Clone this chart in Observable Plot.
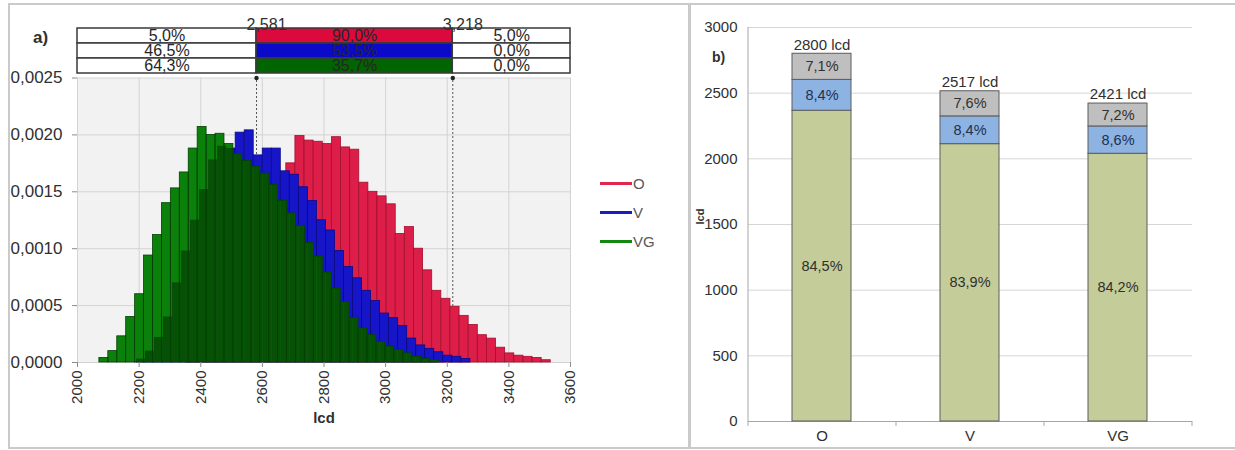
<!DOCTYPE html>
<html>
<head>
<meta charset="utf-8">
<script src="https://cdn.jsdelivr.net/npm/d3@7"></script>
<script src="https://cdn.jsdelivr.net/npm/@observablehq/plot@0.6"></script>
<style>
  body { margin: 0; background: #fff; font-family: "Liberation Sans", Arial, Helvetica, sans-serif; }
  #wrap { position: relative; width: 1235px; height: 450px; overflow: hidden; }
  .panel { position: absolute; border: 2px solid #cacaca; box-sizing: border-box; }
  .layer { position: absolute; top: 0; }
  .layer svg { display: block; overflow: visible; }
  #legend { position: absolute; left: 600px; top: 169px; font-size: 15px; color: #595959; }
  #legend .row { height: 29px; display: flex; align-items: center; }
  #legend .swatch { display: inline-block; width: 32px; height: 3px; margin-right: 1px; }
</style>
</head>
<body>
<div id="wrap">
  <div class="panel" style="left:8px; top:3px; width:682px; height:446px;"></div>
  <div class="panel" style="left:689px; top:3px; width:560px; height:446px;"></div>
  <div id="hist" class="layer" style="left:0"></div>
  <div id="table" class="layer" style="left:0"></div>
  <div id="legend"></div>
  <div id="stack" class="layer" style="left:692px"></div>
</div>
<script>
const fontFamily = '"Liberation Sans", Arial, Helvetica, sans-serif';

// ---- a) luminance histograms (probability density per lcd) ----
const seriesNames = ["O", "V", "VG"];

const binStartO = 2352, binWidthO = 29.6;
const densityO = [0.00002, 0.00004, 0.00008, 0.00013, 0.00020, 0.00030, 0.00042, 0.00055, 0.00070, 0.00095,
  0.00120, 0.00175, 0.00199, 0.00195, 0.00194, 0.00192, 0.00198, 0.00189, 0.00187, 0.00158,
  0.00150, 0.00146, 0.00139, 0.00113, 0.00119, 0.00100, 0.00081, 0.00063, 0.00056, 0.00049,
  0.00041, 0.00033, 0.00024, 0.00021, 0.00013, 0.00008, 0.00006, 0.00005, 0.00004, 0.00002];

const binStartV = 2191, binWidthV = 29.3;
const densityV = [0.00003, 0.00010, 0.00022, 0.00040, 0.00070, 0.00098, 0.00125, 0.00152, 0.00178, 0.00190,
  0.00188, 0.00202, 0.00204, 0.00182, 0.00188, 0.00188, 0.00168, 0.00165, 0.00154, 0.00142,
  0.00125, 0.00116, 0.00098, 0.00084, 0.00074, 0.00063, 0.00054, 0.00043, 0.00039, 0.00032,
  0.00021, 0.00015, 0.00012, 0.00009, 0.00006, 0.00005, 0.00003];

const binStartVG = 2071, binWidthVG = 29.0;
const densityVG = [0.00004, 0.00010, 0.00023, 0.00040, 0.00060, 0.00094, 0.00112, 0.00140, 0.00153, 0.00167,
  0.00188, 0.00207, 0.00200, 0.00201, 0.00192, 0.00183, 0.00177, 0.00172, 0.00166, 0.00156,
  0.00142, 0.00131, 0.00120, 0.00105, 0.00093, 0.00079, 0.00065, 0.00053, 0.00039, 0.00030,
  0.00024, 0.00018, 0.00014, 0.00011, 0.00008, 0.00005, 0.00003, 0.00002];

// 5 % / 95 % limits of series O, and the share of each series in the three ranges
const thresholds = [2581, 3218];
const shareBelow = [5.0, 46.5, 64.3];
const shareBetween = [90.0, 53.5, 35.7];
const shareAbove = [5.0, 0.0, 0.0];

const histXTicks = [2000, 2200, 2400, 2600, 2800, 3000, 3200, 3400, 3600];
const histYTicks = [0, 0.0005, 0.0010, 0.0015, 0.0020, 0.0025];

// ---- b) stacked totals ----
const categories = ["O", "V", "VG"];
const totals = [2800, 2517, 2421];
const parts = ["base", "middle", "top"];
const shareBase = [84.5, 83.9, 84.2];
const shareMiddle = [8.4, 8.4, 8.6];
const shareTop = [7.1, 7.6, 7.2];
const stackYTicks = [0, 500, 1000, 1500, 2000, 2500, 3000];

// ---- colours ----
const seriesFill = {O: "#dc1e48", V: "#1616c8", VG: "#0b800b"};
const seriesStroke = {O: "#a3102f", V: "#0a0a86", VG: "#034003"};
const overlapFill = "#075107";
const tableFill = {O: "#dc0a3c", V: "#0a0ac8", VG: "#006400"};
const legendColor = {O: "#e0284f", V: "#1c1cc0", VG: "#128a12"};
const partFill = {base: "#c4cc99", middle: "#8db3e2", top: "#bfbfbf"};
const partText = {base: "#303030", middle: "#1f3050", top: "#303030"};

const comma = s => s.replace(".", ",");
const pct = v => comma(v.toFixed(1)) + "%";

function toBins(start, width, values) {
  return values.map((v, i) => ({x1: start + i * width, x2: start + (i + 1) * width, y: v}));
}
const binsO = toBins(binStartO, binWidthO, densityO);
const binsV = toBins(binStartV, binWidthV, densityV);
const binsVG = toBins(binStartVG, binWidthVG, densityVG);

// where VG lies over V the two histograms overlap: draw that part darker
function valueAt(bins, x) {
  const b = bins.find(d => x >= d.x1 && x < d.x2);
  return b ? b.y : 0;
}
const edges = Array.from(new Set([...binsV, ...binsVG].flatMap(d => [d.x1, d.x2]))).sort((a, b) => a - b);
const overlap = d3.pairs(edges)
  .map(([a, b]) => ({x1: a, x2: b, y: Math.min(valueAt(binsV, (a + b) / 2), valueAt(binsVG, (a + b) / 2))}))
  .filter(d => d.y > 0);

const rectOpts = (fill, stroke) => ({x1: "x1", x2: "x2", y1: 0, y2: "y", fill, stroke, strokeWidth: 0.8});

const hist = Plot.plot({
  width: 690, height: 450,
  marginLeft: 77, marginRight: 120, marginTop: 77.5, marginBottom: 88,
  style: {fontFamily, fontSize: "15px", color: "#303030", background: "transparent"},
  x: {domain: [2000, 3600], label: null},
  y: {domain: [0, 0.0025], label: null},
  marks: [
    Plot.frame({fill: "#f2f2f2", stroke: null}),
    Plot.gridX(histXTicks, {stroke: "#d3d3d3", strokeOpacity: 1}),
    Plot.gridY(histYTicks, {stroke: "#d3d3d3", strokeOpacity: 1}),
    Plot.ruleX(thresholds, {y1: 0, y2: 0.0025, insetTop: -4, stroke: "#555", strokeDasharray: "2,2"}),
    Plot.rectY(binsO, rectOpts(seriesFill.O, seriesStroke.O)),
    Plot.rectY(binsV, rectOpts(seriesFill.V, seriesStroke.V)),
    Plot.rectY(binsVG, rectOpts(seriesFill.VG, "none")),
    Plot.rectY(overlap, rectOpts(overlapFill, "none")),
    Plot.rectY(binsVG, rectOpts("none", seriesStroke.VG)),
    Plot.dot(thresholds, {x: d => d, y: 0.0025, r: 2.2, fill: "#222", stroke: null}),
    Plot.axisX({ticks: histXTicks, tickFormat: d => String(d), tickRotate: -90, tickSize: 5, tickPadding: 3, stroke: "#8c8c8c", label: null}),
    Plot.axisY({ticks: histYTicks, tickFormat: d => comma(d.toFixed(4)), tickSize: 5, tickPadding: 10, fontSize: 17, stroke: "#8c8c8c", label: null}),
    Plot.text(["lcd"], {frameAnchor: "bottom", dy: 60, fontWeight: "bold", fontSize: 15})
  ]
});
document.getElementById("hist").append(hist);

// table of shares below / between / above the two limits
const tableCells = seriesNames.flatMap((s, i) => [
  {series: s, x1: 2000, x2: thresholds[0], fill: "#ffffff", label: pct(shareBelow[i])},
  {series: s, x1: thresholds[0], x2: thresholds[1], fill: tableFill[s], label: pct(shareBetween[i])},
  {series: s, x1: thresholds[1], x2: 3600, fill: "#ffffff", label: pct(shareAbove[i])}
]);

const table = Plot.plot({
  width: 690, height: 78,
  marginLeft: 77, marginRight: 120, marginTop: 27, marginBottom: 4,
  style: {fontFamily, fontSize: "16px", color: "#303030", background: "transparent"},
  x: {domain: [2000, 3600], axis: null},
  y: {domain: seriesNames, axis: null, padding: 0},
  color: {type: "identity"},
  marks: [
    Plot.barX(tableCells, {x1: "x1", x2: "x2", y: "series", fill: "fill", stroke: "#3a3a3a", strokeWidth: 1.5}),
    Plot.text(tableCells, {x: d => (d.x1 + d.x2) / 2, y: "series", text: "label", fill: "#262626", fontSize: 16}),
    Plot.text(thresholds, {x: d => d, frameAnchor: "top", dx: 10, dy: -9, text: d => comma((d / 1000).toFixed(3)), fontSize: 16}),
    Plot.text(["a)"], {frameAnchor: "top-left", dx: -37, dy: 3, textAnchor: "middle", fontWeight: "bold", fontSize: 17})
  ]
});
document.getElementById("table").append(table);

// legend
const legend = document.getElementById("legend");
seriesNames.forEach(s => {
  const row = document.createElement("div");
  row.className = "row";
  const sw = document.createElement("span");
  sw.className = "swatch";
  sw.style.background = legendColor[s];
  row.append(sw, document.createTextNode(s));
  legend.append(row);
});

// ---- b) stacked bars ----
const shareOf = {base: shareBase, middle: shareMiddle, top: shareTop};
const stackRows = [];
categories.forEach((c, i) => {
  let base = 0;
  parts.forEach(p => {
    const v = totals[i] * shareOf[p][i] / 100;
    stackRows.push({cat: c, part: p, y1: base, y2: base + v, label: pct(shareOf[p][i])});
    base += v;
  });
});

const stackWidth = 543, stackLeft = 56, stackRight = 43;
const step = (stackWidth - stackLeft - stackRight) / categories.length;

const stack = Plot.plot({
  width: stackWidth, height: 450,
  marginLeft: stackLeft, marginRight: stackRight, marginTop: 27, marginBottom: 29,
  style: {fontFamily, fontSize: "15px", color: "#303030", background: "transparent"},
  x: {domain: categories, paddingInner: 0.6, paddingOuter: 0.3, label: null},
  y: {domain: [0, 3000], label: null},
  color: {type: "identity"},
  marks: [
    Plot.gridY(stackYTicks, {stroke: "#d6d6d6", strokeOpacity: 1}),
    Plot.ruleX([categories[0]], {dx: -step / 2, y1: 0, y2: 3000, stroke: "#a6a6a6"}),
    Plot.ruleY([0], {stroke: "#a6a6a6"}),
    Plot.ruleX(categories, {dx: -step / 2, y1: 0, y2: 0, insetBottom: -5, stroke: "#a6a6a6"}),
    Plot.ruleX([categories[categories.length - 1]], {dx: step / 2, y1: 0, y2: 0, insetBottom: -5, stroke: "#a6a6a6"}),
    Plot.barY(stackRows, {x: "cat", y1: "y1", y2: "y2", fill: d => partFill[d.part], stroke: "#5c5c5c", strokeWidth: 1}),
    Plot.text(stackRows, {x: "cat", y: d => (d.y1 + d.y2) / 2, text: "label", fill: d => partText[d.part], fontSize: 14.5}),
    Plot.text(categories, {x: d => d, y: (d, i) => totals[i], text: (d, i) => totals[i] + " lcd", dy: -9, fontSize: 15}),
    Plot.axisX({tickSize: 0, tickPadding: 9, label: null}),
    Plot.axisY({ticks: stackYTicks, tickFormat: d => String(d), tickSize: 0, tickPadding: 11, label: null}),
    Plot.text(["lcd"], {frameAnchor: "left", dx: -48, rotate: -90, fontWeight: "bold", fontSize: 11}),
    Plot.text(["b)"], {frameAnchor: "top-left", dx: -30, dy: 25, textAnchor: "middle", fontWeight: "bold", fontSize: 14})
  ]
});
document.getElementById("stack").append(stack);
</script>
</body>
</html>
